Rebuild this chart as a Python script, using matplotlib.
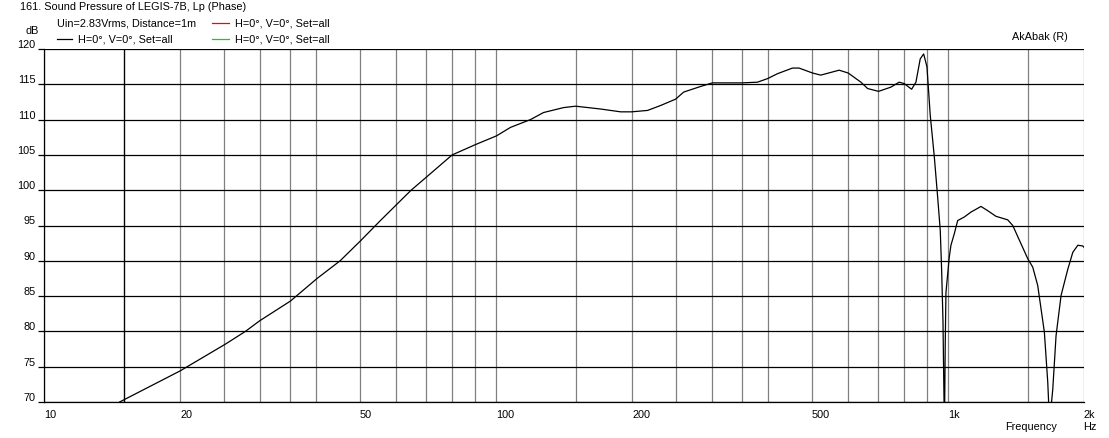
import matplotlib.pyplot as plt
from matplotlib.lines import Line2D

plt.rcParams['font.family'] = ['Liberation Sans', 'DejaVu Sans']
plt.rcParams['font.size'] = 7.8

# frequency response (Hz, dB)
freq = [14.7, 20.0, 25.2, 27.9, 30.0, 35.1, 40.2, 45.2, 50.1, 55.5, 64.9, 70.0,
        80.0, 90.4, 100.3, 107.7, 119.2, 127.4, 141.1, 150.0, 170.4, 188.7, 199.5,
        216.5, 231.4, 249.8, 260.2, 283.8, 301.2, 349.7, 378.9, 398.7, 419.6,
        452.9, 468.4, 501.5, 523.1, 574.5, 601.4, 641.9, 664.2, 702.3, 747.8,
        780.0, 800.3, 831.1, 849.5, 868.3, 883.6, 898.5, 913.8, 932.7, 949.0,
        961.6, 968.5, 975.0, 978.4, 982.3, 986.3, 989.9, 1006.7, 1015.4, 1032.5,
        1050.8, 1086.7, 1124.4, 1183.3, 1224.4, 1277.4, 1356.0, 1391.2, 1501.6,
        1540.4, 1579.9, 1634.3, 1662.8, 1678.0, 1705.8, 1734.6, 1779.6, 1841.5,
        1889.1, 1938.0, 1988.2, 2000.0]
spl = [70.0, 74.4, 78.2, 80.0, 81.5, 84.3, 87.5, 90.0, 92.8, 95.7, 100.0, 101.8,
       105.0, 106.5, 107.7, 108.9, 110.0, 111.0, 111.7, 111.9, 111.5, 111.1, 111.1,
       111.3, 112.0, 112.9, 113.9, 114.7, 115.2, 115.2, 115.3, 115.8, 116.5,
       117.3, 117.3, 116.6, 116.3, 117.0, 116.6, 115.3, 114.4, 114.0, 114.6,
       115.3, 115.1, 114.3, 115.3, 118.6, 119.3, 117.5, 110.6, 104.8, 99.0,
       94.3, 88.6, 81.5, 74.0, 66.0, 78.2, 85.5, 90.5, 92.2, 93.8,
       95.7, 96.2, 96.9, 97.7, 97.1, 96.3, 95.8, 95.0, 90.3,
       89.1, 86.5, 79.9, 72.8, 67.0, 71.8, 79.4, 85.1, 88.8,
       91.2, 92.2, 92.1, 91.9]

x_major = [10, 20, 50, 100, 200, 500, 1000, 2000]
x_labels = ['10', '20', '50', '100', '200', '500', '1k', '2k']
x_minor = [15, 25, 30, 35, 40, 60, 70, 80, 90, 150, 250, 300, 350, 400,
           600, 700, 800, 900, 1500]
y_ticks = [70, 75, 80, 85, 90, 95, 100, 105, 110, 115, 120]
lower_limit = 15

W, H = 1109, 439
fig = plt.figure(figsize=(W / 100, H / 100), dpi=100)
ax = fig.add_axes([44 / W, 1 - 403 / H, (1084 - 44) / W, 353 / H])

ax.semilogx(freq, spl, color='black', lw=0.9)
ax.axvline(lower_limit, color='black', lw=0.9)

ax.set_xlim(10, 2000)
ax.set_ylim(70, 120)
ax.set_xticks(x_major)
ax.set_xticklabels(x_labels)
ax.set_xticks(x_minor, minor=True)
ax.set_xticklabels([], minor=True)
ax.set_yticks(y_ticks)

ax.xaxis.grid(True, which='both', color='#808080', lw=0.9)
ax.yaxis.grid(True, which='major', color='black', lw=0.9)
ax.set_axisbelow(True)

for s in ['top', 'right']:
    ax.spines[s].set_visible(False)
for s in ['left', 'bottom']:
    ax.spines[s].set_linewidth(0.9)

ax.tick_params(axis='x', which='both', length=0, pad=5)
ax.tick_params(axis='y', length=4, width=0.9, pad=2)
for lab in ax.get_xticklabels():
    lab.set_ha('left')
for lab in ax.get_yticklabels():
    lab.set_va('bottom')

def px(x, y):
    return x / W, 1 - y / H

fig.text(*px(20, 7), '161. Sound Pressure of LEGIS-7B, Lp (Phase)', va='center')
fig.text(*px(57, 24), 'Uin=2.83Vrms, Distance=1m', va='center')
fig.text(*px(25, 31), 'dB', va='center')
fig.text(*px(78, 40), 'H=0°, V=0°, Set=all', va='center')
fig.text(*px(235, 24), 'H=0°, V=0°, Set=all', va='center')
fig.text(*px(235, 40), 'H=0°, V=0°, Set=all', va='center')
fig.text(*px(1068, 37), 'AkAbak (R)', va='center', ha='right')
fig.text(*px(1057, 427), 'Frequency', va='center', ha='right')
fig.text(*px(1083, 427), 'Hz', va='center')

legend_lines = [((57, 72), 40, 'black'), ((212, 229), 24, 'red'), ((212, 229), 40, '#00dd00')]
for (x1, x2), y, c in legend_lines:
    fig.add_artist(Line2D([x1 / W, x2 / W], [1 - y / H] * 2, color=c, lw=0.9,
                          transform=fig.transFigure))

fig.savefig('out.png', dpi=100)
